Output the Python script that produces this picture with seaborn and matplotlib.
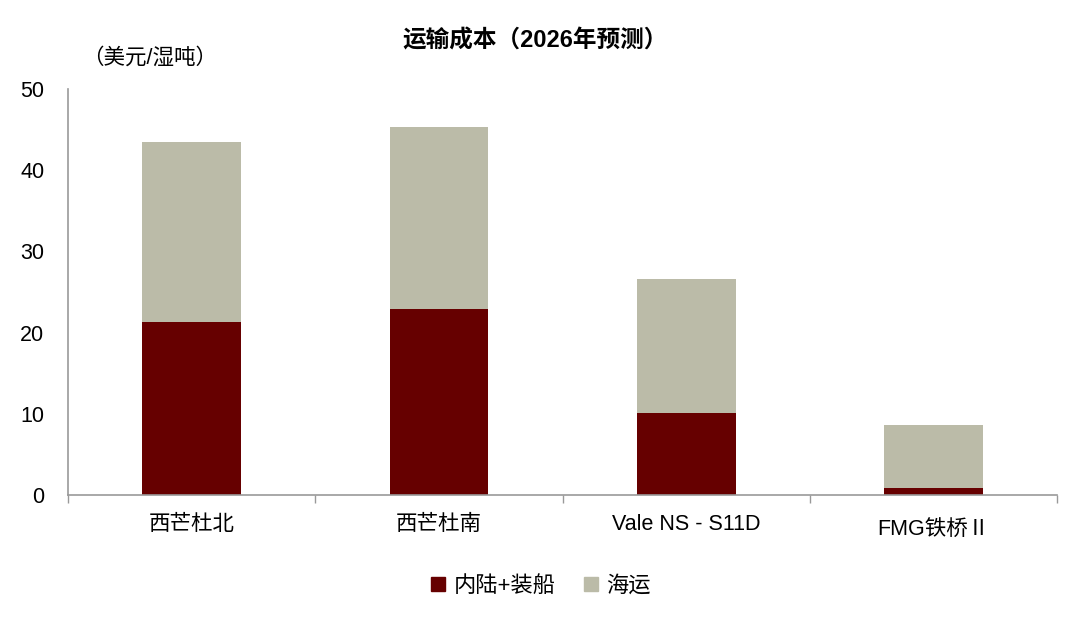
import numpy as np
import pandas as pd
import matplotlib
matplotlib.use('Agg')
import matplotlib.pyplot as plt
import seaborn as sns
from matplotlib.lines import Line2D

# data
categories = ['西芒杜北', '西芒杜南', 'Vale NS - S11D', 'FMG铁桥Ⅱ']
inland = [21.3, 22.9, 10.1, 0.9]      # 内陆+装船
seafreight = [22.2, 22.4, 16.5, 7.7]  # 海运

sns.set_theme(style='white')
plt.rcParams['font.family'] = ['Liberation Sans', 'Noto Sans CJK SC', 'DejaVu Sans']
plt.rcParams['text.color'] = 'black'
plt.rcParams['xtick.color'] = 'black'
plt.rcParams['ytick.color'] = 'black'

df = pd.DataFrame({'cat': categories, 'inland': inland, 'sea': seafreight})
df['total'] = df['inland'] + df['sea']

c_inland = '#660000'
c_sea = '#BBBBA8'

fig = plt.figure(figsize=(10.8, 6.24), dpi=100)
ax = fig.add_axes([0.063, 0.207, 0.916, 0.65])

sns.barplot(data=df, x='cat', y='total', color=c_sea, width=0.4, ax=ax,
            saturation=1, linewidth=0)
sns.barplot(data=df, x='cat', y='inland', color=c_inland, width=0.4, ax=ax,
            saturation=1, linewidth=0)

ax.set_ylim(0, 50)
ax.set_xlim(-0.5, 3.5)
ax.set_yticks([0, 10, 20, 30, 40, 50])
ax.tick_params(axis='y', labelsize=15.5, length=0, pad=17)
ax.set_xlabel('')
ax.set_ylabel('')

# category boundaries as tick marks
ax.set_xticks(np.arange(-0.5, 4.0, 1.0))
ax.set_xticklabels([])
ax.set_xticks(np.arange(4), minor=True)
ax.set_xticklabels(categories, minor=True, fontsize=15.5)
ax.tick_params(axis='x', which='major', length=6, width=1, color='#999999', direction='out', bottom=True)
ax.tick_params(axis='x', which='minor', length=0, pad=14)
ax.get_xticklabels(minor=True)[3].set_y(-0.014)

for s in ['top', 'right']:
    ax.spines[s].set_visible(False)
ax.spines['left'].set_color('#999999')
ax.spines['bottom'].set_color('#999999')
ax.spines['left'].set_linewidth(1.2)
ax.spines['bottom'].set_linewidth(1.2)

fig.text(0.495, 0.935, '运输成本（2026年预测）', ha='center', va='center',
         fontsize=17, fontweight='bold')
fig.text(0.076, 0.907, '（美元/湿吨）', ha='left', va='center', fontsize=15.5)

handles = [Line2D([], [], marker='s', linestyle='', color=c_inland, markersize=10),
           Line2D([], [], marker='s', linestyle='', color=c_sea, markersize=10)]
fig.legend(handles, ['内陆+装船', '海运'], loc='center', bbox_to_anchor=(0.5, 0.06),
           ncol=2, frameon=False, fontsize=16, handletextpad=0.3, columnspacing=1.2,
           handlelength=0.8)

fig.savefig('out.png', dpi=100)
